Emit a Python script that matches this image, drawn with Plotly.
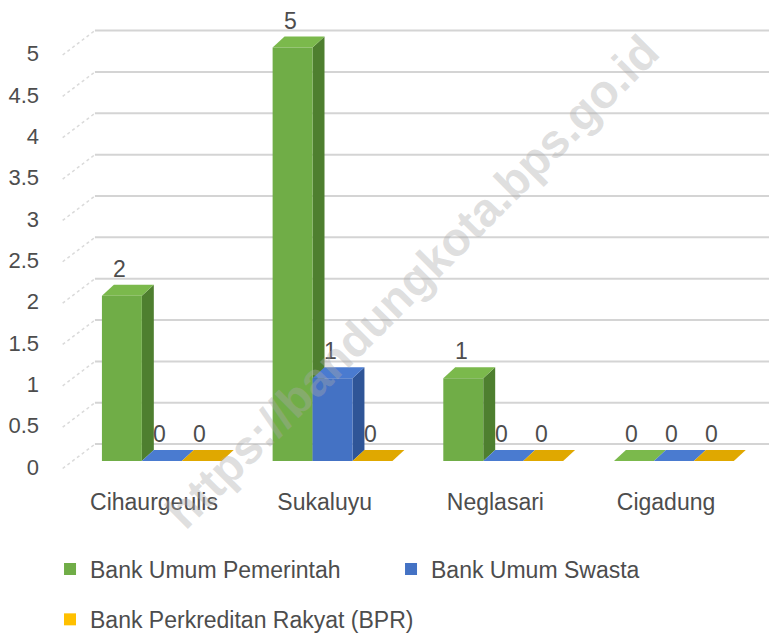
import plotly.graph_objects as go

# jumlah bank per kelurahan
categories = ["Cihaurgeulis", "Sukaluyu", "Neglasari", "Cigadung"]
bank_umum_pemerintah = [2, 5, 1, 0]
bank_umum_swasta = [0, 1, 0, 0]
bank_bpr = [0, 0, 0, 0]
series_names = ["Bank Umum Pemerintah", "Bank Umum Swasta", "Bank Perkreditan Rakyat (BPR)"]

y_tickvals = [0, 0.5, 1, 1.5, 2, 2.5, 3, 3.5, 4, 4.5, 5]
y_ticktext = ["0", "0.5", "1", "1.5", "2", "2.5", "3", "3.5", "4", "4.5", "5"]

watermark = "https://bandungkota.bps.go.id"

FONT = "Liberation Sans"
TEXT_COLOR = "#4D4D4D"
FS = 23

# warna muka depan, samping, atas (efek 3D ala Excel)
front_colors = ["#70AD47", "#4472C4", "#FFC000"]
side_colors = ["#4E7F2F", "#2F5597", "#BF8F00"]
top_colors = ["#7BB94C", "#4A7BD0", "#E0A800"]

BAR_W = 0.234
offsets = [-0.305, -0.071, 0.163]
DX = 0.07      # kedalaman ke kanan
DY = 0.133     # kedalaman ke atas
GRID_DY = 0.205

series = [bank_umum_pemerintah, bank_umum_swasta, bank_bpr]
x_idx = list(range(len(categories)))

fig = go.Figure()
shapes = []
annotations = []

# garis grid di dinding belakang + garis miring di dinding kiri
for v in y_tickvals:
    shapes.append(dict(type="line", xref="x", yref="y", x0=-0.346, x1=3.65,
                       y0=v + GRID_DY, y1=v + GRID_DY, layer="below",
                       line=dict(color="#D4D4D4", width=2)))
    shapes.append(dict(type="line", xref="x", yref="y", x0=-0.535, x1=-0.346,
                       y0=v - 0.09, y1=v + GRID_DY, layer="below",
                       line=dict(color="#DADADA", width=1.5, dash="dot")))

for i in x_idx:
    for k, vals in enumerate(series):
        v = vals[i]
        xl = i + offsets[k]
        xr = xl + BAR_W
        side = f"M {xr},0 L {xr + DX},{DY} L {xr + DX},{v + DY} L {xr},{v} Z"
        top = f"M {xl},{v} L {xl + DX},{v + DY} L {xr + DX},{v + DY} L {xr},{v} Z"
        shapes.append(dict(type="path", path=side, xref="x", yref="y", layer="between",
                           fillcolor=side_colors[k], line=dict(width=0)))
        shapes.append(dict(type="path", path=top, xref="x", yref="y", layer="between",
                           fillcolor=top_colors[k], line=dict(width=0)))
        annotations.append(dict(x=xl + BAR_W / 2 - 0.012, y=v + DY, xref="x", yref="y",
                                text=str(v), showarrow=False, yshift=16, yanchor="middle",
                                font=dict(family=FONT, size=FS, color=TEXT_COLOR)))

for k, vals in enumerate(series):
    fig.add_trace(go.Bar(
        x=x_idx, y=vals, name=series_names[k],
        width=BAR_W, offset=offsets[k],
        marker=dict(color=front_colors[k], line=dict(width=0)),
        legend="legend2" if k == 2 else "legend",
        hoverinfo="skip",
    ))

annotations.append(dict(x=0.4916, y=0.41, xref="paper", yref="paper",
                        text=f"<b>{watermark}</b>", showarrow=False, textangle=-45,
                        font=dict(family=FONT, size=47, color="rgba(170,170,170,0.38)")))

# halaman html punya margin body 8px, jadi figur dibuat sedikit lebih kecil
fig.update_layout(
    width=769, height=625,
    margin=dict(l=51, r=0, t=0, b=162, autoexpand=False),
    paper_bgcolor="white", plot_bgcolor="white",
    barmode="overlay",
    font=dict(family=FONT, size=FS, color=TEXT_COLOR),
    shapes=shapes,
    annotations=annotations,
    xaxis=dict(range=[-0.5565, 3.65], tickvals=x_idx, ticktext=categories,
               showgrid=False, zeroline=False, showline=False, ticks="",
               ticklabelstandoff=15, tickfont=dict(size=FS, color=TEXT_COLOR)),
    yaxis=dict(range=[-0.12, 5.478], tickvals=y_tickvals, ticktext=y_ticktext,
               showgrid=False, zeroline=False, showline=False, ticks="",
               ticklabelstandoff=19, ticklabelshift=6,
               tickfont=dict(size=22, color=TEXT_COLOR)),
    legend=dict(orientation="h", x=-0.0125, xanchor="left", y=-0.2117, yanchor="middle",
                entrywidth=296, bgcolor="rgba(0,0,0,0)",
                font=dict(family=FONT, size=FS, color=TEXT_COLOR)),
    legend2=dict(orientation="h", x=-0.0125, xanchor="left", y=-0.3205, yanchor="middle",
                 bgcolor="rgba(0,0,0,0)",
                 font=dict(family=FONT, size=FS, color=TEXT_COLOR)),
)

fig.write_html("out.html")
